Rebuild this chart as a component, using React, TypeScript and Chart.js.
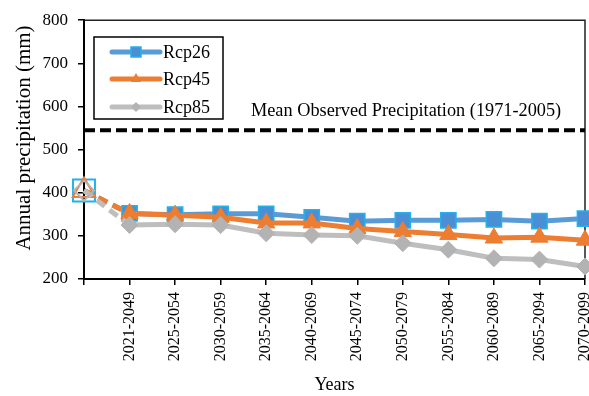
import React, { useEffect, useRef } from "react";
import { Chart, registerables } from "chart.js";

Chart.register(...registerables);

const categories = ["", "2021-2049", "2025-2054", "2030-2059", "2035-2064", "2040-2069", "2045-2074", "2050-2079", "2055-2084", "2060-2089", "2065-2094", "2070-2099"];
const rcp26 = [405, 352, 349, 351, 351, 343, 334, 336, 336, 338, 334, 340];
const rcp45 = [405, 352, 348, 343, 330, 330, 317, 310, 303, 295, 297, 290];
const rcp85 = [405, 325, 327, 325, 306, 302, 300, 283, 268, 248, 245, 229];
const meanObserved = 545;
const meanLabel = "Mean Observed Precipitation (1971-2005)";
const seriesNames = ["Rcp26", "Rcp45", "Rcp85"];
const yTitle = "Annual precipitation (mm)";
const xTitle = "Years";

const SERIF = "'Liberation Serif', 'Times New Roman', serif";
const BLUE_LINE = "#5B9BD5";
const BLUE_FILL = "#4A8FD6";
const BLUE_EDGE = "#22B2EA";
const ORANGE = "#ED7D31";
const GRAY_LINE = "#BEBEBE";
const GRAY_FILL = "#B3B3B3";

function perPoint<T>(first: T, rest: T): T[] {
  return categories.map((_, i) => (i === 0 ? first : rest));
}

const dashFirst = {
  borderDash: (ctx: any) => (ctx.p0DataIndex === 0 ? [10, 6] : undefined),
};

const overlayPlugin = {
  id: "overlay",
  beforeDatasetsDraw(chart: any) {
    const { ctx, chartArea } = chart;
    ctx.save();
    ctx.strokeStyle = "#222";
    ctx.lineWidth = 1.5;
    ctx.beginPath();
    ctx.moveTo(chartArea.left, chartArea.top);
    ctx.lineTo(chartArea.right, chartArea.top);
    ctx.lineTo(chartArea.right, chartArea.bottom);
    ctx.stroke();
    ctx.restore();
  },
  afterDraw(chart: any) {
    const { ctx, chartArea } = chart;
    const xScale = chart.scales.x;
    ctx.save();

    // x tick labels (rotated, reading upward)
    ctx.fillStyle = "#000";
    ctx.font = `16px ${SERIF}`;
    categories.forEach((lab, i) => {
      if (!lab) return;
      const px = xScale.getPixelForValue(i);
      ctx.save();
      ctx.translate(px, chartArea.bottom + 13);
      ctx.rotate(-Math.PI / 2);
      ctx.textAlign = "right";
      ctx.textBaseline = "middle";
      ctx.fillText(lab, 0, 0);
      ctx.restore();
    });

    // annotation text
    ctx.font = `18.3px ${SERIF}`;
    ctx.textAlign = "left";
    ctx.textBaseline = "alphabetic";
    ctx.fillText(meanLabel, 251, 116);

    // y axis title
    ctx.save();
    ctx.translate(24, 138);
    ctx.rotate(-Math.PI / 2);
    ctx.textAlign = "center";
    ctx.textBaseline = "middle";
    ctx.font = `21px ${SERIF}`;
    ctx.fillText(yTitle, 0, 0);
    ctx.restore();

    // x axis title
    ctx.textAlign = "center";
    ctx.textBaseline = "middle";
    ctx.font = `18px ${SERIF}`;
    ctx.fillText(xTitle, (chartArea.left + chartArea.right) / 2, 385);

    // legend
    const bx = 94, by = 37, bw = 129, bh = 82;
    ctx.fillStyle = "#fff";
    ctx.fillRect(bx, by, bw, bh);
    ctx.strokeStyle = "#000";
    ctx.lineWidth = 1.5;
    ctx.strokeRect(bx, by, bw, bh);
    const rows = [52, 79, 107];
    const lineColors = [BLUE_LINE, ORANGE, GRAY_LINE];
    rows.forEach((ry, i) => {
      ctx.strokeStyle = lineColors[i];
      ctx.lineWidth = 5;
      ctx.lineCap = "round";
      ctx.beginPath();
      ctx.moveTo(112, ry);
      ctx.lineTo(160, ry);
      ctx.stroke();
      ctx.lineCap = "butt";
      if (i === 0) {
        ctx.fillStyle = BLUE_FILL;
        ctx.strokeStyle = BLUE_EDGE;
        ctx.lineWidth = 1.5;
        ctx.fillRect(131, ry - 5, 10, 10);
        ctx.strokeRect(131, ry - 5, 10, 10);
      } else if (i === 1) {
        ctx.fillStyle = ORANGE;
        ctx.beginPath();
        ctx.moveTo(136, ry - 6);
        ctx.lineTo(141, ry + 3);
        ctx.lineTo(131, ry + 3);
        ctx.closePath();
        ctx.fill();
      } else {
        ctx.fillStyle = GRAY_FILL;
        ctx.beginPath();
        ctx.moveTo(136, ry - 5);
        ctx.lineTo(141, ry);
        ctx.lineTo(136, ry + 5);
        ctx.lineTo(131, ry);
        ctx.closePath();
        ctx.fill();
      }
      ctx.fillStyle = "#000";
      ctx.font = `18px ${SERIF}`;
      ctx.textAlign = "left";
      ctx.textBaseline = "middle";
      ctx.fillText(seriesNames[i], 163, ry + 1);
    });
    ctx.restore();
  },
};

export default function App() {
  const ref = useRef<HTMLCanvasElement | null>(null);
  useEffect(() => {
    document.body.style.margin = "0";
    const canvas = ref.current;
    if (!canvas) return;
    const chart = new Chart(canvas, {
      type: "line",
      data: {
        labels: categories,
        datasets: [
          {
            label: "Mean",
            data: categories.map(() => meanObserved),
            borderColor: "#000",
            borderWidth: 4,
            borderDash: [11, 5],
            pointRadius: 0,
            fill: false,
            order: 4,
          },
          {
            label: seriesNames[0],
            data: rcp26,
            borderColor: BLUE_LINE,
            borderWidth: 5,
            pointStyle: "rect",
            pointRadius: perPoint(15.5, 10.8),
            pointBackgroundColor: perPoint("rgba(0,0,0,0)", BLUE_FILL),
            pointBorderColor: BLUE_EDGE,
            pointBorderWidth: perPoint(2, 1.5),
            segment: dashFirst,
            clip: false,
            order: 3,
          },
          {
            label: seriesNames[1],
            data: rcp45,
            borderColor: ORANGE,
            borderWidth: 5,
            pointStyle: "triangle",
            pointRadius: perPoint(13, 10),
            pointBackgroundColor: perPoint("rgba(0,0,0,0)", ORANGE),
            pointBorderColor: ORANGE,
            pointBorderWidth: perPoint(2, 1),
            segment: dashFirst,
            clip: false,
            order: 2,
          },
          {
            label: seriesNames[2],
            data: rcp85,
            borderColor: GRAY_LINE,
            borderWidth: 5,
            pointStyle: "rectRot",
            pointRadius: perPoint(10, 8.5),
            pointBackgroundColor: perPoint("rgba(0,0,0,0)", GRAY_FILL),
            pointBorderColor: GRAY_FILL,
            pointBorderWidth: perPoint(2, 1),
            segment: dashFirst,
            clip: false,
            order: 1,
          },
        ],
      },
      options: {
        responsive: false,
        animation: false,
        layout: { autoPadding: false, padding: { left: 0, right: 4, top: 17, bottom: 0 } },
        plugins: { legend: { display: false }, tooltip: { enabled: false } },
        elements: { line: { tension: 0 } },
        scales: {
          x: {
            type: "category",
            offset: false,
            afterFit: (s: any) => {
              s.height = 117;
            },
            border: { display: true, color: "#000", width: 2 },
            grid: { display: true, drawOnChartArea: false, drawTicks: true, tickLength: 6, color: "#000", lineWidth: 1.5 },
            ticks: {
              display: false,
              autoSkip: false,
            },
          },
          y: {
            min: 200,
            max: 800,
            afterFit: (s: any) => {
              s.width = 84;
            },
            border: { display: true, color: "#000", width: 2 },
            grid: { display: true, drawOnChartArea: false, drawTicks: true, tickLength: 6, color: "#000", lineWidth: 1.5 },
            ticks: {
              stepSize: 100,
              padding: 10,
              color: "#000",
              font: { family: SERIF, size: 17 },
            },
          },
        },
      },
      plugins: [overlayPlugin],
    });
    return () => chart.destroy();
  }, []);
  return (
    <canvas
      ref={ref}
      width={589}
      height={396}
      style={{ display: "block", position: "fixed", left: 0, top: 0, width: 589, height: 396, background: "#fff" }}
    />
  );
}
